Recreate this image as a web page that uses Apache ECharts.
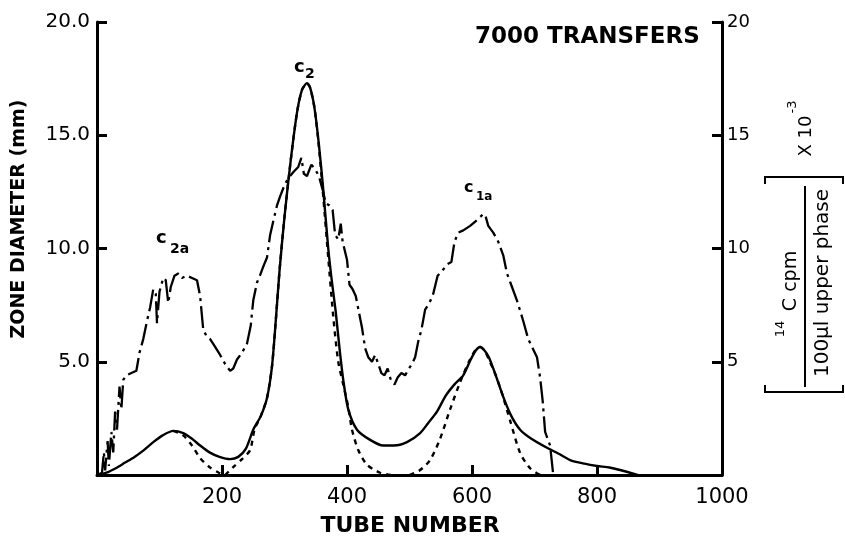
<!DOCTYPE html>
<html>
<head>
<meta charset="utf-8">
<script src="https://cdn.jsdelivr.net/npm/echarts@6/dist/echarts.min.js"></script>
<style>
html, body { margin: 0; padding: 0; background: #fff; }
#chart { width: 845px; height: 536px; }
</style>
</head>
<body>
<div id="chart"></div>
<script>
// zone diameter (dash-dot, left axis)
var zoneTube = [0, 8, 11, 13, 17, 19, 23, 26, 29, 32, 36, 39, 42, 47, 55, 63, 68, 74, 80, 85, 90, 94, 96, 100, 106, 110, 114, 118, 124, 130, 136, 144, 152, 160, 165, 170, 176, 181, 188, 197, 205, 213, 218, 224, 232, 240, 246, 250, 256, 262, 266, 272, 277, 282, 288, 293, 300, 306, 315, 322, 327, 331, 336, 343, 349, 355, 361, 366, 372, 377, 381, 386, 390, 393, 400, 404, 409, 414, 419, 424, 429, 434, 440, 445, 450, 455, 460, 465, 470, 476, 481, 487, 493, 499, 504, 509, 514, 519, 525, 532, 538, 545, 552, 560, 567, 572, 578, 586, 597, 610, 617, 621, 626, 634, 642, 650, 656, 664, 672, 682, 690, 697, 704, 709, 713, 717, 725, 730];
var zoneMm = [0, 0.1, 1.0, 0.2, 1.5, 0.4, 1.9, 1.0, 2.8, 2.0, 3.9, 2.9, 4.2, 4.4, 4.5, 4.6, 5.4, 6.0, 6.8, 7.4, 8.2, 8.0, 6.7, 8.1, 8.7, 8.6, 7.6, 8.3, 8.8, 8.9, 8.7, 8.8, 8.7, 8.6, 7.9, 6.4, 6.1, 6.0, 5.7, 5.3, 4.9, 4.6, 4.7, 5.1, 5.4, 5.8, 6.6, 7.7, 8.5, 8.9, 9.2, 9.6, 10.6, 11.2, 11.9, 12.3, 12.8, 13.1, 13.4, 13.6, 14.0, 13.3, 13.2, 13.7, 13.5, 13.2, 12.6, 12.0, 11.9, 11.7, 10.6, 10.4, 11.1, 10.3, 9.5, 8.4, 8.2, 7.9, 7.2, 6.5, 5.6, 5.2, 5.0, 5.3, 4.9, 4.5, 4.4, 4.7, 4.2, 4.0, 4.3, 4.5, 4.4, 4.7, 4.9, 5.2, 5.9, 6.4, 7.3, 7.6, 8.0, 8.8, 9.0, 9.3, 9.4, 10.3, 10.7, 10.8, 11.0, 11.3, 11.5, 11.5, 11.0, 10.7, 10.3, 9.7, 8.9, 8.3, 7.7, 6.8, 6.0, 5.6, 5.2, 4.3, 3.3, 1.9, 1.3, 0];

// 14C cpm (solid, right axis)
var cpmTube = [0, 15, 30, 45, 60, 75, 90, 105, 122, 138, 152, 165, 180, 196, 213, 226, 238, 250, 262, 272, 280, 286, 292, 300, 310, 320, 328, 336, 341, 348, 355, 362, 370, 376, 382, 388, 394, 402, 416, 437, 458, 475, 496, 517, 530, 544, 558, 572, 586, 598, 606, 613, 620, 627, 638, 650, 663, 677, 695, 720, 738, 757, 780, 800, 820, 837, 865];
var cpm = [0, 0.1, 0.3, 0.55, 0.8, 1.1, 1.45, 1.75, 1.95, 1.85, 1.6, 1.3, 1.0, 0.8, 0.7, 0.8, 1.15, 2.0, 2.6, 3.4, 4.8, 6.8, 9.0, 11.4, 13.9, 16.0, 17.0, 17.3, 17.1, 16.2, 14.6, 12.6, 10.0, 8.5, 7.2, 5.6, 4.2, 2.9, 2.0, 1.55, 1.3, 1.3, 1.45, 1.85, 2.3, 2.8, 3.5, 4.0, 4.4, 5.1, 5.5, 5.65, 5.5, 5.2, 4.4, 3.45, 2.6, 2.0, 1.6, 1.2, 0.95, 0.66, 0.5, 0.4, 0.33, 0.22, 0];

// theoretical peaks (dotted)
var c2aTube = [122, 138, 152, 165, 180, 195, 205];
var c2aCpm = [1.95, 1.75, 1.3, 0.75, 0.35, 0.1, 0];
var c2Tube = [205, 218, 232, 245, 252, 262, 272, 280, 286, 292, 300, 310, 320, 328, 336, 341, 348, 355, 362, 370, 378, 386, 394, 402, 408, 418, 432, 453, 470];
var c2Cpm = [0, 0.35, 0.7, 1.1, 2.0, 2.6, 3.4, 4.8, 6.8, 9.0, 11.4, 13.9, 16.0, 17.0, 17.3, 17.1, 16.2, 14.5, 12.3, 9.6, 7.0, 5.0, 4.0, 3.0, 2.0, 1.1, 0.45, 0.1, 0];
var c1aTube = [500, 517, 533, 549, 565, 581, 595, 605, 613, 620, 627, 638, 648, 661, 677, 693, 709];
var c1aCpm = [0, 0.22, 0.66, 1.6, 2.9, 4.1, 5.0, 5.5, 5.65, 5.5, 5.1, 4.4, 3.6, 2.4, 0.97, 0.3, 0];

var xTicks = [0, 1000, 200];
var yTicks = [0, 20, 5];

function pairs(xs, ys) {
    return xs.map(function (x, i) { return [x, ys[i]]; });
}

var font = 'DejaVu Sans';
var axisLine = { show: true, lineStyle: { color: '#000', width: 3 } };
var axisTick = { show: true, inside: true, length: 10, lineStyle: { color: '#000', width: 3 } };

var chart = echarts.init(document.getElementById('chart'));

function txt(x, y, s, size, extra) {
    var st = { text: s, fontSize: size, fontFamily: font, fill: '#000', textAlign: 'left', textVerticalAlign: 'middle' };
    for (var k in extra) st[k] = extra[k];
    return { type: 'text', x: x, y: y, style: st, z: 100 };
}
function rot(g) { g.rotation = Math.PI / 2; return g; }

chart.setOption({
    animation: false,
    backgroundColor: '#fff',
    grid: { left: 97, right: 123, top: 22, bottom: 61, containLabel: false, outerBoundsMode: 'none' },
    xAxis: {
        type: 'value', min: xTicks[0], max: xTicks[1], interval: xTicks[2],
        axisLine: axisLine, axisTick: axisTick, splitLine: { show: false },
        axisLabel: {
            margin: 12, fontFamily: font, fontSize: 21, color: '#000',
            formatter: function (v) { return v === 0 ? '' : String(v); }
        }
    },
    yAxis: [{
        type: 'value', min: yTicks[0], max: yTicks[1], interval: yTicks[2], position: 'left',
        axisLine: axisLine, axisTick: axisTick, splitLine: { show: false },
        axisLabel: {
            margin: 7, fontFamily: font, fontSize: 20, color: '#000',
            formatter: function (v) { return v === 0 ? '' : v.toFixed(1); }
        }
    }, {
        type: 'value', min: yTicks[0], max: yTicks[1], interval: yTicks[2], position: 'right',
        axisLine: axisLine, axisTick: axisTick, splitLine: { show: false },
        axisLabel: {
            margin: 5, fontFamily: font, fontSize: 18, color: '#000',
            formatter: function (v) { return v === 0 ? '' : String(v); }
        }
    }],
    series: [{
        type: 'line', yAxisIndex: 0, data: pairs(zoneTube, zoneMm), symbol: 'none',
        lineStyle: { color: '#000', width: 2.3, type: [22, 5, 3, 5] }
    }, {
        type: 'line', yAxisIndex: 1, data: pairs(cpmTube, cpm), symbol: 'none', smooth: 0.25,
        lineStyle: { color: '#000', width: 2.4 }
    }, {
        type: 'line', yAxisIndex: 1, data: pairs(c2aTube, c2aCpm), symbol: 'none', smooth: 0.25,
        lineStyle: { color: '#000', width: 2.4, type: [5, 5] }
    }, {
        type: 'line', yAxisIndex: 1, data: pairs(c2Tube, c2Cpm), symbol: 'none', smooth: 0.25,
        lineStyle: { color: '#000', width: 2.4, type: [5, 5] }
    }, {
        type: 'line', yAxisIndex: 1, data: pairs(c1aTube, c1aCpm), symbol: 'none', smooth: 0.25,
        lineStyle: { color: '#000', width: 2.4, type: [5, 5] }
    }],
    graphic: [
        txt(475, 37, '7000 TRANSFERS', 23, { fontWeight: 'bold' }),
        txt(410, 526, 'TUBE NUMBER', 22, { textAlign: 'center', fontWeight: 'bold' }),
        rot(txt(19, 219, 'ZONE DIAMETER (mm)', 19, { textAlign: 'center', fontWeight: 'bold' })),
        txt(294, 67, 'c', 18, { fontWeight: 'bold' }), txt(305, 74, '2', 14, { fontWeight: 'bold' }),
        txt(156, 238, 'c', 18, { fontWeight: 'bold' }), txt(170, 249, '2a', 14, { fontWeight: 'bold' }),
        txt(464, 188, 'c', 16, { fontWeight: 'bold' }), txt(476, 197, '1a', 12, { fontWeight: 'bold' }),
        // right-hand axis title
        { type: 'polyline', shape: { points: [[765, 184], [765, 177], [843, 177], [843, 184]] }, style: { stroke: '#000', lineWidth: 2, fill: null } },
        { type: 'polyline', shape: { points: [[765, 385], [765, 392], [843, 392], [843, 385]] }, style: { stroke: '#000', lineWidth: 2, fill: null } },
        { type: 'line', shape: { x1: 805, y1: 186, x2: 805, y2: 387 }, style: { stroke: '#000', lineWidth: 2 } },
        rot(txt(791, 281, 'C cpm', 19, { textAlign: 'center' })),
        rot(txt(781, 329, '14', 13, { textAlign: 'center' })),
        rot(txt(823, 283, '100\u00b5l upper phase', 20, { textAlign: 'center' })),
        rot(txt(806, 136, 'X 10', 18, { textAlign: 'center' })),
        rot(txt(793, 107, '-3', 13, { textAlign: 'center' }))
    ]
});
</script>
</body>
</html>
